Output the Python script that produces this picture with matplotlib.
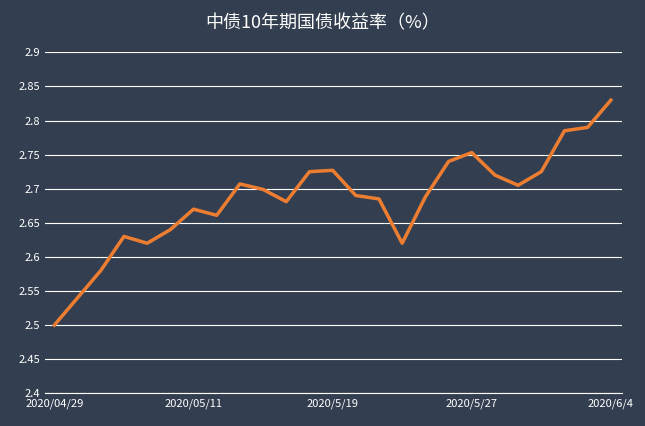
import matplotlib
matplotlib.use("Agg")
import matplotlib.pyplot as plt

plt.rcParams['font.family'] = ['Noto Sans CJK SC', 'DejaVu Sans']

tick_labels = ["2020/04/29", "2020/05/11", "2020/5/19", "2020/5/27", "2020/6/4"]
tick_index = [0, 6, 12, 18, 24]
values = [2.50, 2.54, 2.58, 2.63, 2.62, 2.64, 2.67, 2.661, 2.707, 2.699, 2.681,
          2.725, 2.727, 2.69, 2.685, 2.62, 2.688, 2.74, 2.753, 2.72, 2.705,
          2.725, 2.785, 2.79, 2.83]
yticks = [2.4, 2.45, 2.5, 2.55, 2.6, 2.65, 2.7, 2.75, 2.8, 2.85, 2.9]

bg = '#333F50'
fig = plt.figure(figsize=(6.45, 4.26), dpi=100, facecolor=bg)
ax = fig.add_axes([0.07, 0.077, 0.895, 0.80], facecolor=bg)
x = list(range(len(values)))
ax.plot(x, values, color='#ED7D31', linewidth=2.5, zorder=3)
ax.set_ylim(2.4, 2.9)
ax.set_xlim(-0.4, 24.5)
ax.set_yticks(yticks)
ax.set_yticklabels([f"{v:g}" for v in yticks])
ax.set_xticks(tick_index)
ax.set_xticklabels(tick_labels)
ax.grid(axis='y', color='white', linewidth=0.8)
ax.set_axisbelow(True)
for s in ['top', 'right', 'left']:
    ax.spines[s].set_visible(False)
ax.spines['bottom'].set_color('white')
ax.tick_params(colors='white', labelsize=8, length=0)
ax.tick_params(axis='x', pad=4)
fig.text(0.5, 0.945, "中债10年期国债收益率（%）", color='white', fontsize=13,
         ha='center', va='center')
fig.savefig("out.png", dpi=100, facecolor=bg)
